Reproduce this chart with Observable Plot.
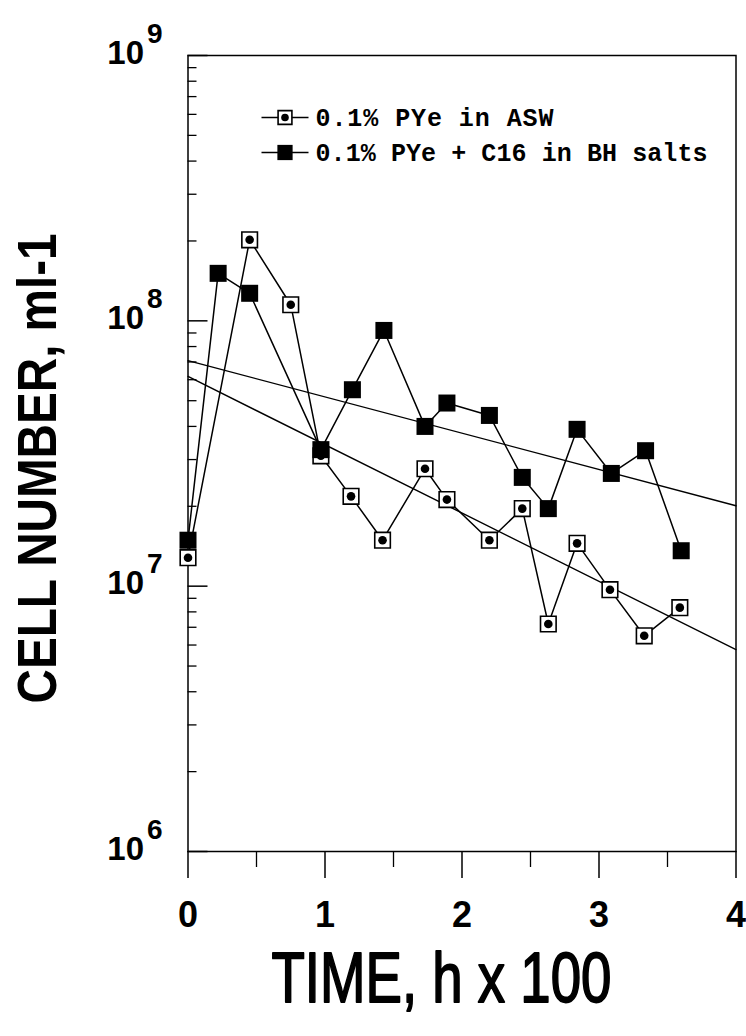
<!DOCTYPE html>
<html><head><meta charset="utf-8">
<script src="https://cdn.jsdelivr.net/npm/d3@7"></script>
<script src="https://cdn.jsdelivr.net/npm/@observablehq/plot@0.6"></script>
<style>body{margin:0;background:#fff} svg{display:block}</style>
</head><body><div id="chart"></div>
<script>
// ---- data (time in h x 100, cells per ml) ----
const timeASW  = [0, 0.45, 0.75, 0.97, 1.19, 1.42, 1.73, 1.89, 2.20, 2.44, 2.63, 2.84, 3.08, 3.33, 3.59];
const cellsASW = [1.28e7, 2.02e8, 1.15e8, 3.10e7, 2.18e7, 1.49e7, 2.77e7, 2.12e7, 1.49e7, 1.96e7, 7.2e6, 1.45e7, 9.7e6, 6.5e6, 8.3e6];
const timeBH   = [0, 0.22, 0.45, 0.97, 1.20, 1.43, 1.73, 1.89, 2.20, 2.44, 2.63, 2.84, 3.09, 3.34, 3.60];
const cellsBH  = [1.49e7, 1.51e8, 1.27e8, 3.27e7, 5.5e7, 9.2e7, 4.0e7, 4.9e7, 4.4e7, 2.57e7, 1.96e7, 3.9e7, 2.66e7, 3.24e7, 1.36e7];
const fitTime  = [0, 4];
const fitASW   = [6.17e7, 5.77e6];
const fitBH    = [7.08e7, 2.01e7];
const xTicks   = [0, 1, 2, 3, 4];
const xMinor   = [0.5, 1.5, 2.5, 3.5];
const yDecades = [1e6, 1e7, 1e8, 1e9];
const yMinor   = [1e6, 1e7, 1e8].flatMap(d => [2,3,4,5,6,7,8,9].map(k => k * d));
const legendLabels = ["0.1% PYe in ASW", "0.1% PYe + C16 in BH salts"];
const xTitle = "TIME, h x 100";
const yTitle = "CELL NUMBER, ml-1";

const asw = timeASW.map((t, i) => ({t, v: cellsASW[i]}));
const bh = timeBH.map((t, i) => ({t, v: cellsBH[i]}));
const fitA = fitTime.map((t, i) => ({t, v: fitASW[i]}));
const fitB = fitTime.map((t, i) => ({t, v: fitBH[i]}));

const W = 746, H = 1036, mL = 187.5, mR = 10.5, mT = 55, mB = 185;
const frameW = W - mL - mR, frameH = H - mT - mB;
const hline = {draw(ctx) { ctx.moveTo(-23.5, 0); ctx.lineTo(23.5, 0); }};
const sansBold = {fontFamily: "Liberation Sans, Arial, sans-serif", fontWeight: "bold"};

const chart = Plot.plot({
  width: W, height: H,
  marginLeft: mL, marginRight: mR, marginTop: mT, marginBottom: mB,
  style: {background: "white", fontFamily: "Liberation Sans, Arial, sans-serif"},
  x: {domain: [0, 4], axis: null},
  y: {type: "log", domain: [1e6, 1e9], axis: null},
  marks: [
    Plot.frame({stroke: "black", strokeWidth: 1.5}),
    // y ticks (inward)
    Plot.ruleY(yDecades, {y: d => d, insetRight: frameW - 20, stroke: "black", strokeWidth: 1.5}),
    Plot.ruleY(yMinor, {y: d => d, insetRight: frameW - 9, stroke: "black", strokeWidth: 1.3}),
    // x ticks (outward)
    Plot.ruleX(xTicks, {x: d => d, insetTop: frameH, insetBottom: -27, stroke: "black", strokeWidth: 1.5}),
    Plot.ruleX(xMinor, {x: d => d, insetTop: frameH, insetBottom: -16, stroke: "black", strokeWidth: 1.3}),
    // tick labels
    Plot.text(xTicks, {x: d => d, frameAnchor: "bottom", dy: 75, text: d => String(d), textAnchor: "middle", fontSize: 36, ...sansBold, fill: "black"}),
    Plot.text(yDecades, {y: d => d, frameAnchor: "left", dx: -44, dy: 8, text: () => "10", textAnchor: "end", lineAnchor: "bottom", fontSize: 33, ...sansBold, fill: "black"}),
    Plot.text(yDecades, {y: d => d, frameAnchor: "left", dx: -41, dy: -13, text: d => String(Math.round(Math.log10(d))), textAnchor: "start", lineAnchor: "bottom", fontSize: 28, ...sansBold, fill: "black"}),
    // axis titles
    Plot.text([yTitle], {frameAnchor: "left", dx: -149.5, dy: 15, rotate: -90, text: d => d, textAnchor: "middle", lineAnchor: "middle", fontSize: 56, ...sansBold, fill: "black"}),
    Plot.text([xTitle], {frameAnchor: "bottom", dx: -20.5, dy: 128, text: d => d, textAnchor: "middle", lineAnchor: "middle", fontSize: 70, fontFamily: "Liberation Sans, Arial, sans-serif", fill: "black", stroke: "black", strokeWidth: 1.8}),
    // regression lines
    Plot.line(fitA, {x: "t", y: "v", stroke: "black", strokeWidth: 1.4}),
    Plot.line(fitB, {x: "t", y: "v", stroke: "black", strokeWidth: 1.4}),
    // series lines
    Plot.line(asw, {x: "t", y: "v", stroke: "black", strokeWidth: 1.5}),
    Plot.line(bh, {x: "t", y: "v", stroke: "black", strokeWidth: 1.5}),
    // ASW markers: open square with central dot
    Plot.dot(asw, {x: "t", y: "v", symbol: "square", r: 8.8, fill: "white", stroke: "black", strokeWidth: 1.6}),
    Plot.dot(asw, {x: "t", y: "v", r: 4.3, fill: "black"}),
    // BH markers: filled square
    Plot.dot(bh, {x: "t", y: "v", symbol: "square", r: 9.6, fill: "black"}),
    // legend
    Plot.dot([legendLabels[0]], {frameAnchor: "top-left", dx: 97, dy: 62, symbol: hline, stroke: "black", strokeWidth: 1.5, fill: "none"}),
    Plot.dot([legendLabels[0]], {frameAnchor: "top-left", dx: 97, dy: 62, symbol: "square", r: 7.8, fill: "white", stroke: "black", strokeWidth: 1.6}),
    Plot.dot([legendLabels[0]], {frameAnchor: "top-left", dx: 97, dy: 62, r: 3.8, fill: "black"}),
    Plot.dot([legendLabels[1]], {frameAnchor: "top-left", dx: 97, dy: 97, symbol: hline, stroke: "black", strokeWidth: 1.5, fill: "none"}),
    Plot.dot([legendLabels[1]], {frameAnchor: "top-left", dx: 97, dy: 97, symbol: "square", r: 8.6, fill: "black"}),
    Plot.text([legendLabels[0]], {frameAnchor: "top-left", dx: 127.5, dy: 62, text: d => d, textAnchor: "start", lineAnchor: "middle", fontSize: 25, fontFamily: "Liberation Mono, DejaVu Sans Mono, monospace", fontWeight: "bold", fill: "black"}),
    Plot.text([legendLabels[1]], {frameAnchor: "top-left", dx: 127.5, dy: 97, text: d => d, textAnchor: "start", lineAnchor: "middle", fontSize: 25, fontFamily: "Liberation Mono, DejaVu Sans Mono, monospace", fontWeight: "bold", fill: "black"})
  ]
});

// fit title / legend widths to the reference
const fits = {[yTitle]: [470, "spacingAndGlyphs"], [xTitle]: [340, "spacingAndGlyphs"],
              [legendLabels[0]]: [238, "spacing"], [legendLabels[1]]: [392, "spacing"]};
d3.select(chart).selectAll("text").each(function() {
  const f = fits[this.textContent];
  if (f) { this.setAttribute("textLength", f[0]); this.setAttribute("lengthAdjust", f[1]); }
});
document.getElementById("chart").append(chart);
</script>
</body></html>
